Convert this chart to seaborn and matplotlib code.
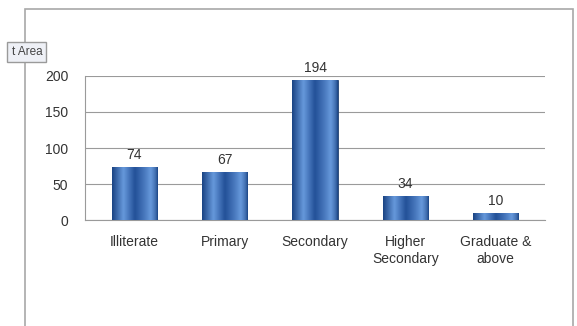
import numpy as np
import pandas as pd
import seaborn as sns
from matplotlib import pyplot as plt
from matplotlib.patches import Rectangle

categories = ["Illiterate", "Primary", "Secondary", "Higher\nSecondary", "Graduate &\nabove"]
counts = [74, 67, 194, 34, 10]
y_ticks = [0, 50, 100, 150, 200]

sns.set_style("white")
plt.rcParams["font.family"] = ["Liberation Sans", "DejaVu Sans"]

df = pd.DataFrame({"education": categories, "count": counts})

fig = plt.figure(figsize=(5.77, 3.26), dpi=100)
ax = fig.add_axes([0.147, 0.325, 0.798, 0.442])

sns.barplot(data=df, x="education", y="count", color="#3a6db3", width=0.5, ax=ax,
            edgecolor="#1f3f70", linewidth=0.6, zorder=3)

# cylinder-like shading on each bar
shade = np.concatenate([np.linspace(0.0, 1.0, 30), np.linspace(1.0, 0.0, 30) ** 0.6])[None, :]
cmap = sns.blend_palette(["#1b4585", "#6799dc", "#25539a"], as_cmap=True)
for p in ax.patches:
    x0, y0 = p.get_x(), p.get_y()
    w, h = p.get_width(), p.get_height()
    im = ax.imshow(shade, extent=[x0, x0 + w, y0, y0 + h], aspect="auto",
                   cmap=cmap, zorder=4, interpolation="bicubic")
    im.set_clip_path(p)
    ax.text(x0 + w / 2, y0 + h + 7, f"{int(h)}", ha="center", va="bottom",
            fontsize=10, color="#333333")

ax.set_xlim(-0.55, 4.55)
ax.set_ylim(0, 200)
ax.set_yticks(y_ticks)
ax.yaxis.grid(True, color="#9a9a9a", linewidth=0.8, zorder=0)
ax.set_axisbelow(True)
ax.set_xlabel("")
ax.set_ylabel("")
for s in ["top", "right"]:
    ax.spines[s].set_visible(False)
ax.spines["left"].set_color("#9a9a9a")
ax.spines["bottom"].set_color("#9a9a9a")
ax.tick_params(axis="y", length=3, pad=9, labelsize=10, colors="#333333", color="#9a9a9a")
ax.tick_params(axis="x", length=0, pad=11, labelsize=10, colors="#333333")
for lbl in ax.get_xticklabels():
    lbl.set_linespacing(1.25)

# chart area border
fig.patches.append(Rectangle((0.043, -0.02), 0.950, 0.992, transform=fig.transFigure,
                             fill=False, edgecolor="#a8a8a8", linewidth=1.2))
fig.text(0.02, 0.84, "t Area", fontsize=8.5, color="#444444", va="center",
         bbox=dict(boxstyle="square,pad=0.35", facecolor="#eef0f6", edgecolor="#9a9a9a"))

fig.savefig("out.png", dpi=100)
